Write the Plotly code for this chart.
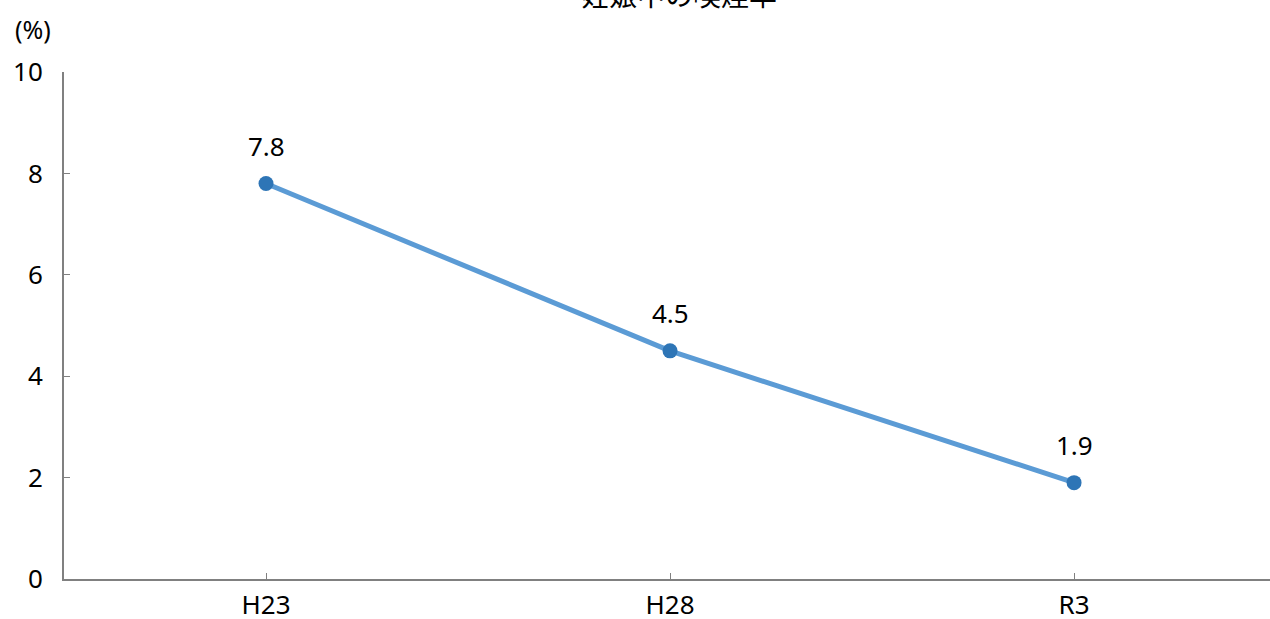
import plotly.graph_objects as go

# 妊娠中の喫煙率（%）
years = ["H23", "H28", "R3"]
rates = [7.8, 4.5, 1.9]
y_ticks = [0, 2, 4, 6, 8, 10]

FONT = "Noto Sans, Noto Sans CJK JP"
CJK = "Noto Sans CJK JP"
W, H = 1270, 619
M_L, M_R, M_T, M_B = 64, 0, 72, 40
plot_w = W - M_L - M_R
plot_h = H - M_T - M_B

fig = go.Figure()
fig.add_trace(go.Scatter(
    x=years, y=rates, mode="lines+markers",
    line=dict(color="#5b9bd5", width=5),
    marker=dict(color="#2e75b6", size=15),
    cliponaxis=False, hoverinfo="skip", showlegend=False,
))

annotations = [
    dict(x=x, y=v, xref="x", yref="y", text=f"{v:.1f}", showarrow=False,
         yshift=38, font=dict(family=FONT, size=26, color="#000000"))
    for x, v in zip(years, rates)
]
# title, partly above the page edge
annotations.append(dict(
    x=(679 - M_L) / plot_w, xref="paper", y=1 + (M_T + 6) / plot_h, yref="paper",
    text="妊娠中の喫煙率", showarrow=False, xanchor="center", yanchor="middle",
    font=dict(family=CJK, size=28, color="#000000"),
))
# unit label
annotations.append(dict(
    x=-(M_L - 33) / plot_w, xref="paper",
    y=1 + (M_T - 29) / plot_h, yref="paper",
    text="(%)", showarrow=False, xanchor="center", yanchor="middle",
    font=dict(family=FONT, size=25, color="#000000"),
))

tick_font = dict(family=FONT, size=26, color="#000000")
fig.update_layout(
    width=W, height=H,
    margin=dict(l=M_L, r=M_R, t=M_T, b=M_B),
    paper_bgcolor="white", plot_bgcolor="white",
    font=dict(family=FONT, size=26, color="#000000"),
    annotations=annotations,
    xaxis=dict(
        type="category", range=[-0.5, 2.485], automargin=False,
        showline=True, linecolor="#808080", linewidth=2,
        ticks="inside", ticklen=6, tickwidth=1, tickcolor="#808080",
        showgrid=False, zeroline=False,
        tickfont=tick_font, ticklabelstandoff=2,
    ),
    yaxis=dict(
        range=[0, 10], tickvals=y_ticks, automargin=False,
        showline=True, linecolor="#808080", linewidth=2,
        ticks="inside", ticklen=6, tickwidth=1, tickcolor="#808080",
        showgrid=False, zeroline=False,
        tickfont=tick_font, ticklabelstandoff=14,
    ),
)

fig.write_html("out.html")
